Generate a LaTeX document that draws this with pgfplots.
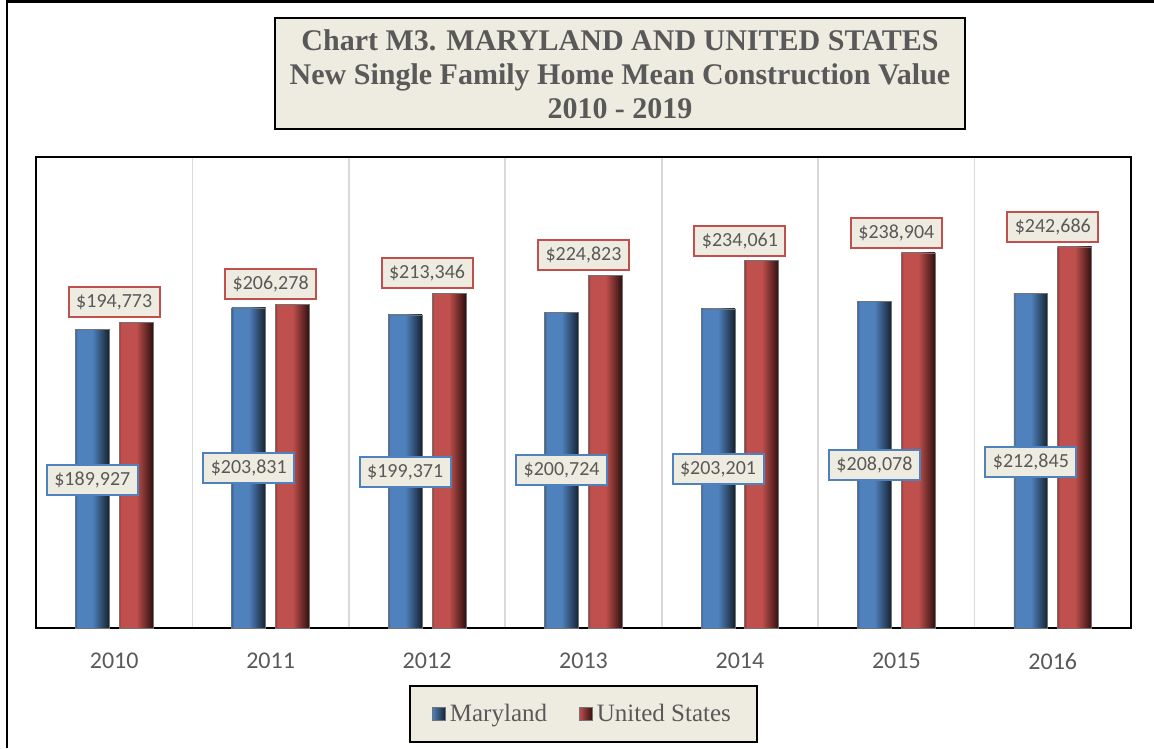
\documentclass[border=0pt]{standalone}
\usepackage{fontspec}
\setmainfont{Carlito}
\newfontfamily\titlefont{Liberation Serif}
\usepackage{pgfplots}
\usepackage{pgfplotstable}
\pgfplotsset{compat=1.18}

\definecolor{txtgray}{HTML}{595959}
\definecolor{beige}{HTML}{EEECE1}
\definecolor{mdblue}{HTML}{4F81BD}
\definecolor{mdblueD}{HTML}{3A6494}
\definecolor{mdblueK}{HTML}{15212F}
\definecolor{usred}{HTML}{C0504D}
\definecolor{usredD}{HTML}{9A3D3A}
\definecolor{usredK}{HTML}{2E0F0E}
\definecolor{gridgray}{HTML}{D9D9D9}

% bars: light body, dark towards the right edge
\pgfdeclarehorizontalshading{blueBar}{100bp}{color(0bp)=(mdblueD); color(25bp)=(mdblueD); color(28bp)=(mdblue); color(50bp)=(mdblue); color(75bp)=(mdblueK); color(100bp)=(mdblueK)}
\pgfdeclarehorizontalshading{redBar}{100bp}{color(0bp)=(usredD); color(25bp)=(usredD); color(28bp)=(usred); color(50bp)=(usred); color(75bp)=(usredK); color(100bp)=(usredK)}

\pgfplotstableread{
x md us mdy
0 189927 194773 94268
1 203831 206278 101911
2 199371 213346 99363
3 200724 224823 100637
4 203201 234061 101274
5 208078 238904 103822
6 212845 242686 105732
}\mydata

\tikzset{
  vlabel/.style={fill=beige, line width=1pt, text=txtgray, font=\fontsize{10}{12}\selectfont,
    minimum width=45.5pt, minimum height=15pt, inner sep=2pt},
}
\pgfplotsset{
  mdbar/.style={ybar, forget plot, bar width=0.217, bar shift=-0.14, draw=black!55,
    line width=0.4pt, shade, shading=blueBar},
  usbar/.style={ybar, forget plot, bar width=0.217, bar shift=0.14, draw=black!55,
    line width=0.4pt, shade, shading=redBar,
    nodes near coords={\$\pgfmathprintnumber[fixed, precision=0, 1000 sep={,}]{\pgfplotspointmeta}},
    every node near coord/.append style={vlabel, draw=usred, anchor=south, yshift=2pt}},
}
% one path per bar, so that each bar gets its own shading
\newcommand\bars[3]{%
  \addplot[mdbar] coordinates {(#1,#2)};
  \addplot[usbar] coordinates {(#1,#3)};
}

\begin{document}
\begin{tikzpicture}
\path[use as bounding box] (0,0) rectangle (577pt,-374pt);
\draw[line width=1.2pt] (3.5pt,-374pt) -- (3.5pt,-0.8pt) -- (577pt,-0.8pt);

\begin{axis}[
  at={(18pt,-314pt)}, anchor=south west,
  width=547.5pt, height=235.5pt, scale only axis,
  xmin=-0.5, xmax=6.5, ymin=0, ymax=300000,
  ytick=\empty,
  xtick={0,...,6}, xticklabels={2010,2011,2012,2013,2014,2015,2016},
  minor xtick={0.5,1.5,...,5.5},
  xminorgrids, minor grid style={gridgray, line width=0.8pt},
  major tick length=0pt, minor tick length=0pt,
  axis line style={line width=1pt, black},
  xticklabel style={text=txtgray, font=\fontsize{12}{14}\selectfont, yshift=-9pt},
  /pgf/number format/assume math mode=true,
  legend style={at={(0.5,-0.1826)}, anchor=center, fill=beige, draw=black, line width=1pt,
    font=\titlefont\fontsize{12.5}{14}\selectfont, text=txtgray,
    minimum height=24pt, inner xsep=11pt, inner ysep=2pt,
    /tikz/every even column/.append style={column sep=14pt}},
  legend columns=2,
]
\bars{0}{189927}{194773}
\bars{1}{203831}{206278}
\bars{2}{199371}{213346}
\bars{3}{200724}{224823}
\bars{4}{203201}{234061}
\bars{5}{208078}{238904}
\bars{6}{212845}{242686}
\addlegendimage{legend image code/.code={\path[draw=black!55, line width=0.3pt, left color=mdblue, right color=mdblueK] (0pt,-3.3pt) rectangle (6.6pt,3.3pt);}}
\addlegendentry{Maryland}
\addlegendimage{legend image code/.code={\path[draw=black!55, line width=0.3pt, left color=usred, right color=usredK] (0pt,-3.3pt) rectangle (6.6pt,3.3pt);}}
\addlegendentry{United States}
\addplot[draw=none, mark=none, forget plot, point meta=explicit,
  nodes near coords={\$\pgfmathprintnumber[fixed, precision=0, 1000 sep={,}]{\pgfplotspointmeta}},
  every node near coord/.append style={vlabel, draw=mdblue, anchor=center}]
  table[x expr=\thisrow{x}-0.14, y=mdy, meta=md] {\mydata};
\end{axis}

\node[draw=black, line width=1pt, fill=beige, minimum width=345pt, minimum height=55.5pt,
  align=center, text=txtgray, font=\titlefont\bfseries\fontsize{15}{17}\selectfont]
  at (310pt,-37pt) {Chart M3. MARYLAND AND UNITED STATES\\New Single Family Home Mean Construction Value\\2010 - 2019};
\end{tikzpicture}
\end{document}
